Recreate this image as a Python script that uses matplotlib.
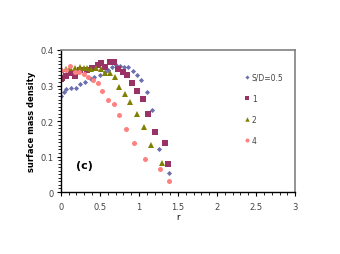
import numpy as np
import matplotlib.pyplot as plt
from matplotlib.ticker import MultipleLocator

# S/D = 0.5
r_05 = [0, 0.04, 0.07, 0.13, 0.19, 0.25, 0.31, 0.38, 0.43, 0.50, 0.56, 0.61, 0.65,
        0.70, 0.76, 0.81, 0.86, 0.93, 0.98, 1.03, 1.10, 1.17, 1.26, 1.39]
d_05 = [0.271, 0.281, 0.291, 0.294, 0.294, 0.303, 0.311, 0.318, 0.325, 0.331, 0.338,
        0.344, 0.351, 0.359, 0.354, 0.353, 0.351, 0.340, 0.330, 0.316, 0.281, 0.231,
        0.121, 0.054]
# S/D = 1
r_1 = [0, 0.02, 0.06, 0.13, 0.18, 0.25, 0.34, 0.40, 0.47, 0.52, 0.57, 0.63, 0.68,
       0.73, 0.79, 0.85, 0.91, 0.97, 1.05, 1.12, 1.21, 1.33, 1.37]
d_1 = [0.318, 0.321, 0.327, 0.335, 0.327, 0.344, 0.344, 0.348, 0.359, 0.362, 0.353,
       0.367, 0.367, 0.346, 0.339, 0.331, 0.306, 0.285, 0.262, 0.221, 0.168, 0.139,
       0.080]
# S/D = 2
r_2 = [0, 0.06, 0.12, 0.18, 0.24, 0.29, 0.34, 0.39, 0.45, 0.51, 0.57, 0.63, 0.69,
       0.75, 0.82, 0.88, 0.97, 1.06, 1.15, 1.30]
d_2 = [0.344, 0.346, 0.348, 0.350, 0.351, 0.350, 0.348, 0.347, 0.350, 0.346, 0.335,
       0.336, 0.325, 0.295, 0.276, 0.254, 0.220, 0.184, 0.133, 0.082]
# S/D = 4
r_4 = [0, 0.06, 0.12, 0.18, 0.23, 0.29, 0.35, 0.41, 0.47, 0.53, 0.61, 0.68, 0.75,
       0.84, 0.94, 1.08, 1.27, 1.39]
d_4 = [0.345, 0.345, 0.355, 0.339, 0.339, 0.332, 0.325, 0.315, 0.306, 0.284, 0.259,
       0.247, 0.216, 0.177, 0.137, 0.093, 0.064, 0.032]

labels = ['S/D=0.5', '1', '2', '4']
xticks = [0, 0.5, 1, 1.5, 2, 2.5, 3]
xticklabels = ['0', '0.5', '1', '1.5', '2', '2.5', '3']
yticks = [0, 0.1, 0.2, 0.3, 0.4]
yticklabels = ['0', '0.1', '0.2', '0.3', '0.4']

fig = plt.figure(figsize=(3.4, 2.55), dpi=100)
ax = fig.add_axes([0.179, 0.243, 0.689, 0.557])

ax.plot(r_05, d_05, 'D', color='#6b6fae', ms=2.6, mew=0, label=labels[0])
ax.plot(r_1, d_1, 's', color='#993366', ms=4, mew=0, label=labels[1])
ax.plot(r_2, d_2, '^', color='#808000', ms=4, mew=0, label=labels[2])
ax.plot(r_4, d_4, 'o', color='#ff8080', ms=3.6, mew=0, label=labels[3])

ax.set_xlim(0, 3)
ax.set_ylim(0, 0.4)
ax.set_xticks(xticks)
ax.set_xticklabels(xticklabels, fontsize=6, color='#444444')
ax.set_yticks(yticks)
ax.set_yticklabels(yticklabels, fontsize=6, color='#444444')
ax.xaxis.set_minor_locator(MultipleLocator(0.1))
ax.yaxis.set_minor_locator(MultipleLocator(0.01))
ax.tick_params(which='major', length=3, width=0.8)
ax.tick_params(axis='x', which='major', pad=4)
ax.tick_params(axis='y', which='major', pad=2)
ax.tick_params(which='minor', length=2, width=0.6)

for s in ['top', 'right']:
    ax.spines[s].set_color('#808080')
    ax.spines[s].set_linewidth(1.2)
for s in ['left', 'bottom']:
    ax.spines[s].set_color('black')
    ax.spines[s].set_linewidth(1.0)

ax.set_xlabel('r', fontsize=6, labelpad=1)
ax.set_ylabel('surface mass density', fontsize=6, fontweight='bold', labelpad=3)
ax.text(0.3, 0.075, '(c)', fontsize=8, fontweight='bold', ha='center', va='center')

ax.legend(loc='upper left', bbox_to_anchor=(0.75, 0.89), frameon=False, fontsize=5.5,
          handletextpad=0.1, labelspacing=1.6, markerscale=0.8, handlelength=1,
          labelcolor='#444444')

fig.savefig('out.png', dpi=100)
